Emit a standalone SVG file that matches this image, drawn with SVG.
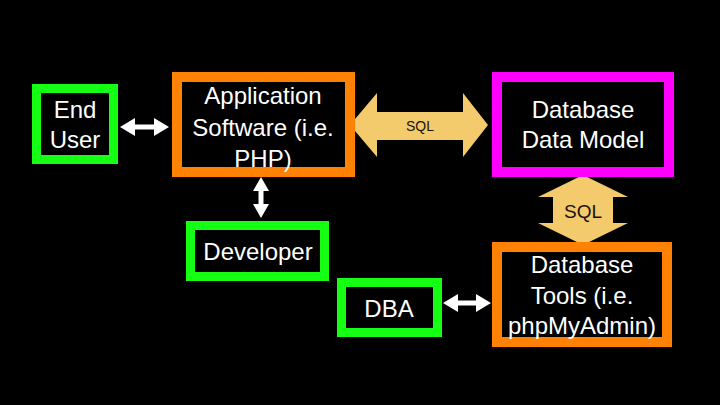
<svg xmlns="http://www.w3.org/2000/svg" width="720" height="405" viewBox="0 0 720 405">
<style>
  .box { fill: #000; }
  .green { stroke: #14ff14; stroke-width: 9; }
  .orange { stroke: #ff8204; stroke-width: 10; }
  .magenta { stroke: #ff00ff; stroke-width: 10; }
  .lbl { font-family: "Liberation Sans", Arial, sans-serif; font-size: 24px; fill: #fff; text-anchor: middle; }
  .sql { font-family: "Liberation Sans", Arial, sans-serif; fill: #1a1208; text-anchor: middle; }
  .gold { fill: #f3cb6c; }
  .white { fill: #fff; }
</style>
<rect x="0" y="0" width="720" height="405" fill="#000"/>

<g id="connectors">
  <polygon class="white" points="120,127 135,118 135,124.5 154,124.5 154,118 169,127 154,136 154,129.5 135,129.5 135,136"/>
  <polygon class="white" points="261,177 269,191 263.5,191 263.5,204 269,204 261,218 253,204 258.5,204 258.5,191 253,191"/>
  <polygon class="white" points="443,303 458,294 458,300.5 476,300.5 476,294 491,303 476,312 476,305.5 458,305.5 458,312"/>
  <g id="sql-h">
    <polygon class="gold" points="350,125 377,93 377,112 463,112 463,93 488,125 463,157 463,140 377,140 377,157"/>
    <text class="sql" x="420" y="131" font-size="14">SQL</text>
  </g>
  <g id="sql-v">
    <polygon class="gold" points="583,175 628,197 613,197 613,223 628,223 583,245 538,223 553,223 553,197 538,197"/>
    <text class="sql" x="583" y="218" font-size="19">SQL</text>
  </g>
</g>

<g id="end-user">
  <rect class="box green" x="36.5" y="88.5" width="77" height="71"/>
  <text class="lbl" x="75" y="118">End</text>
  <text class="lbl" x="75" y="148">User</text>
</g>

<g id="application">
  <rect class="box orange" x="177" y="77" width="173" height="95"/>
  <text class="lbl" x="263" y="104">Application</text>
  <text class="lbl" x="263" y="136">Software (i.e.</text>
  <text class="lbl" x="263" y="167">PHP)</text>
</g>

<g id="data-model">
  <rect class="box magenta" x="497" y="77" width="172" height="95"/>
  <text class="lbl" x="583" y="118">Database</text>
  <text class="lbl" x="583" y="148">Data Model</text>
</g>

<g id="developer">
  <rect class="box green" x="190.5" y="225.5" width="134" height="51"/>
  <text class="lbl" x="258" y="260">Developer</text>
</g>

<g id="dba">
  <rect class="box green" x="341.5" y="282.5" width="96" height="50"/>
  <text class="lbl" x="389" y="317">DBA</text>
</g>

<g id="db-tools">
  <rect class="box orange" x="497" y="247" width="170" height="95"/>
  <text class="lbl" x="582" y="273">Database</text>
  <text class="lbl" x="582" y="304">Tools (i.e.</text>
  <text class="lbl" x="582" y="334">phpMyAdmin)</text>
</g>
</svg>
